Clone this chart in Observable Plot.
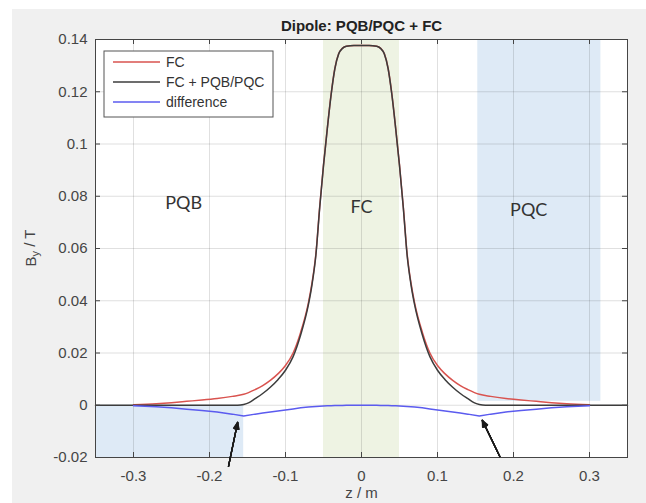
<!DOCTYPE html>
<html><head><meta charset="utf-8">
<script src="https://cdn.jsdelivr.net/npm/d3@7"></script>
<script src="https://cdn.jsdelivr.net/npm/@observablehq/plot@0.6"></script>
<style>
html,body{margin:0;padding:0;background:#fff;}
#wrap{position:relative;width:646px;height:503px;overflow:hidden;}
#bg{position:absolute;left:12px;top:9px;right:0;bottom:0;background:#f0f0f0;}
#chart{position:absolute;left:0;top:0;}
</style></head><body>
<div id="wrap"><div id="bg"></div><div id="chart"></div></div>
<script>
// ---- data ----
const titleText = "Dipole: PQB/PQC + FC";
const xLabel = "z / m";
const yLabelMain = "B", yLabelSub = "y", yLabelRest = " / T";
const xTicks = [-0.3, -0.2, -0.1, 0, 0.1, 0.2, 0.3];
const yTicks = [-0.02, 0, 0.02, 0.04, 0.06, 0.08, 0.10, 0.12, 0.14];
const seriesNames = ["FC", "FC + PQB/PQC", "difference"];

const zGrid = [-0.30,-0.27,-0.25,-0.23,-0.21,-0.19,-0.17,-0.155,-0.14,-0.13,-0.12,-0.11,-0.10,-0.09,-0.08,-0.07,-0.065,-0.06,-0.055,-0.05,-0.045,-0.04,-0.035,-0.03,-0.025,-0.02,-0.01,
  0,
  0.01,0.02,0.025,0.03,0.035,0.04,0.045,0.05,0.055,0.06,0.065,0.07,0.08,0.09,0.10,0.11,0.12,0.13,0.14,0.155,0.17,0.19,0.21,0.23,0.25,0.27,0.30];
const fcValues = [0.0002,0.0006,0.0010,0.0015,0.0020,0.0026,0.0034,0.0042,0.0060,0.0075,0.0095,0.0120,0.0152,0.0200,0.0280,0.0390,0.0470,0.0580,0.0760,0.0920,0.1060,0.1190,0.1290,0.1346,0.1367,0.1374,0.1377,
  0.1377,
  0.1377,0.1374,0.1367,0.1346,0.1290,0.1190,0.1060,0.0920,0.0760,0.0580,0.0470,0.0390,0.0280,0.0200,0.0152,0.0120,0.0095,0.0075,0.0060,0.0042,0.0034,0.0026,0.0020,0.0015,0.0010,0.0006,0.0002];
const diffValues = [-0.0002,-0.0006,-0.0010,-0.0015,-0.0020,-0.0026,-0.0034,-0.0041,-0.0034,-0.0030,-0.0026,-0.0022,-0.0018,-0.0014,-0.0010,-0.0007,-0.0006,-0.0005,-0.0004,-0.0003,-0.0002,-0.0002,-0.0001,-0.0001,-0.0001,0,0,
  0,
  0,0,-0.0001,-0.0001,-0.0001,-0.0002,-0.0002,-0.0003,-0.0004,-0.0005,-0.0006,-0.0007,-0.0010,-0.0014,-0.0018,-0.0022,-0.0026,-0.0030,-0.0034,-0.0041,-0.0034,-0.0026,-0.0020,-0.0015,-0.0010,-0.0006,-0.0002];

const zTotal = [-0.35,-0.30,-0.25,-0.20,-0.163,-0.155,-0.148,-0.14,-0.13,-0.12,-0.11,-0.10,-0.09,-0.08,-0.07,-0.065,-0.06,-0.055,-0.05,-0.045,-0.04,-0.035,-0.03,-0.025,-0.02,-0.01,
  0,
  0.01,0.02,0.025,0.03,0.035,0.04,0.045,0.05,0.055,0.06,0.065,0.07,0.08,0.09,0.10,0.11,0.12,0.13,0.14,0.148,0.155,0.163,0.20,0.25,0.30,0.35];
const totalValues = [0,0,0,0,0,0.0003,0.0010,0.0025,0.0045,0.0069,0.0098,0.0134,0.0186,0.0270,0.0383,0.0464,0.0575,0.0756,0.0917,0.1058,0.1188,0.1289,0.1345,0.1366,0.1374,0.1377,
  0.1377,
  0.1377,0.1374,0.1366,0.1345,0.1289,0.1188,0.1058,0.0917,0.0756,0.0575,0.0464,0.0383,0.0270,0.0186,0.0134,0.0098,0.0069,0.0045,0.0025,0.0010,0.0003,0,0,0,0,0];

const regionNames = ["PQB", "FC", "PQC"];
const regionX1 = [-0.35, -0.05, 0.153];
const regionX2 = [-0.155, 0.05, 0.315];
const regionY1 = [-0.02, -0.02, 0.0015];
const regionY2 = [0, 0.14, 0.14];
const labelX = [-0.234, 0, 0.22];
const labelY = [0.0775, 0.0757, 0.0745];

// annotation arrows (tail -> tip), data units
const arrowX1 = [-0.175, 0.182];
const arrowY1 = [-0.0234, -0.0196];
const arrowX2 = [-0.163, 0.159];
const arrowY2 = [-0.0066, -0.0058];

// ---- styles ----
const colFC = "#d9534f", colTotal = "#3c3c3c", colDiff = "#5b5bef";
const seriesColors = [colFC, colTotal, colDiff];
const blueShade = "#deeaf6", greenShade = "#eef3e3";
const axisCol = "#454545";
const font = "'Liberation Sans', Arial, sans-serif";

// ---- tables ----
const fcData = zGrid.map((z, i) => ({z, v: fcValues[i]}));
const diffData = zGrid.map((z, i) => ({z, v: diffValues[i]}));
const totalData = zTotal.map((z, i) => ({z, v: totalValues[i]}));
const regions = regionNames.map((name, i) => ({name, x1: regionX1[i], x2: regionX2[i], y1: regionY1[i], y2: regionY2[i]}));
const labels = regionNames.map((name, i) => ({name, x: labelX[i], y: labelY[i]}));
const arrows = arrowX1.map((x1, i) => ({x1, y1: arrowY1[i], x2: arrowX2[i], y2: arrowY2[i]}));

const W = 646, H = 503, mL = 95, mR = 19, mT = 39, mB = 46;
const innerW = W - mL - mR, innerH = H - mT - mB;
const fmt = d => String(Math.round(d * 100) / 100);

const arrowMarks = [8, 16, 24, 32, 40, 48].map(a =>
  Plot.arrow(arrows, {x1: "x1", y1: "y1", x2: "x2", y2: "y2", stroke: "#1a1a1a", strokeWidth: 1.3, headAngle: a, headLength: 8}));

const plot = Plot.plot({
  width: W, height: H,
  marginLeft: mL, marginRight: mR, marginTop: mT, marginBottom: mB,
  style: {background: "transparent", fontFamily: font, overflow: "visible"},
  x: {domain: [-0.35, 0.35]},
  y: {domain: [-0.02, 0.14]},
  marks: [
    Plot.frame({fill: "white", stroke: null}),
    Plot.rect(regions, {x1: "x1", x2: "x2", y1: "y1", y2: "y2", fill: d => d.name === "FC" ? greenShade : blueShade}),
    Plot.gridX(xTicks, {stroke: "#262626", strokeOpacity: 0.14}),
    Plot.gridY(yTicks, {stroke: "#262626", strokeOpacity: 0.14}),
    Plot.text(labels, {x: "x", y: "y", text: "name", fontFamily: "Lato, 'Open Sans', sans-serif", fontSize: 18, fill: "#333"}),
    Plot.line(fcData, {x: "z", y: "v", stroke: colFC, strokeWidth: 1.5, curve: "monotone-x"}),
    Plot.line(totalData, {x: "z", y: "v", stroke: colTotal, strokeWidth: 1.5, curve: "monotone-x"}),
    Plot.line(diffData, {x: "z", y: "v", stroke: colDiff, strokeWidth: 1.5, curve: "linear"}),
    Plot.ruleX(xTicks, {x: d => d, insetTop: innerH - 5, stroke: axisCol}),
    Plot.ruleX(xTicks, {x: d => d, insetBottom: innerH - 5, stroke: axisCol}),
    Plot.ruleY(yTicks, {y: d => d, insetRight: innerW - 5, stroke: axisCol}),
    Plot.ruleY(yTicks, {y: d => d, insetLeft: innerW - 5, stroke: axisCol}),
    Plot.frame({stroke: axisCol}),
    ...arrowMarks,
    Plot.axisX(xTicks, {tickSize: 0, tickPadding: 13, tickFormat: fmt, fontSize: 15, color: axisCol, label: null}),
    Plot.axisY(yTicks, {tickSize: 0, tickPadding: 8, tickFormat: fmt, fontSize: 15, color: axisCol, label: null}),
    Plot.text([titleText], {text: d => d, frameAnchor: "top", dy: -19, fontWeight: "bold", fontSize: 15, fill: "#222"}),
    Plot.text([xLabel], {text: d => d, frameAnchor: "bottom", dy: 40, fontSize: 15, fill: axisCol})
  ]
});
document.getElementById("chart").appendChild(plot);

// y-axis label with subscript
const svg = d3.select(plot);
const yl = svg.append("text")
  .attr("transform", `translate(32,${mT + innerH / 2}) rotate(-90)`)
  .attr("text-anchor", "middle").attr("dominant-baseline", "middle")
  .attr("font-family", font).attr("font-size", 15).attr("fill", axisCol);
yl.append("tspan").text(yLabelMain);
yl.append("tspan").attr("dy", "0.35em").attr("font-size", 11).text(yLabelSub);
yl.append("tspan").attr("dy", "-0.35em").text(yLabelRest);

// legend
const lg = svg.append("g").attr("font-family", font).attr("font-size", 14).attr("text-anchor", "start");
lg.append("rect").attr("x", 104).attr("y", 51).attr("width", 169).attr("height", 66)
  .attr("fill", "white").attr("stroke", "#555");
seriesNames.forEach((name, i) => {
  const yy = 62 + i * 20;
  lg.append("line").attr("x1", 113).attr("x2", 160).attr("y1", yy).attr("y2", yy)
    .attr("stroke", seriesColors[i]).attr("stroke-width", 1.5);
  lg.append("text").attr("x", 166).attr("y", yy).attr("dy", "0.35em").attr("text-anchor", "start").attr("fill", "#333").text(name);
});
</script>
</body></html>
